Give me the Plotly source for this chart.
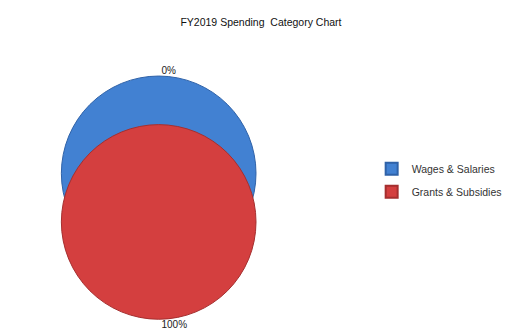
import plotly.graph_objects as go

title = "FY2019 Spending  Category Chart"
categories = ["Wages & Salaries", "Grants & Subsidies"]
values = [0.2, 99.8]
colors = ["#4281d2", "#d43f3f"]
edge_colors = ["#2f62a8", "#a52f2f"]

total = sum(values)
pct = [f"{round(100 * v / total)}%" for v in values]

fig = go.Figure()
# back (blue) disc, label at top
fig.add_trace(go.Pie(
    labels=[categories[0]], values=[values[0]], text=[pct[0]],
    textinfo="text", textposition="outside", rotation=180,
    marker=dict(colors=[colors[0]], line=dict(color=edge_colors[0], width=1)),
    domain=dict(x=[0.117, 0.491], y=[0.192, 0.773]),
    sort=False, showlegend=True, hoverinfo="label+percent",
    legendgroup="a",
    textfont=dict(size=10, color="#222"),
))
# front (red) disc, label at bottom
fig.add_trace(go.Pie(
    labels=[categories[1]], values=[values[1]], text=[pct[1]],
    textinfo="text", textposition="outside", rotation=0,
    marker=dict(colors=[colors[1]], line=dict(color=edge_colors[1], width=1)),
    domain=dict(x=[0.117, 0.491], y=[0.047, 0.628]),
    sort=False, showlegend=True, hoverinfo="label+percent",
    legendgroup="b",
    textfont=dict(size=10, color="#222"),
))

fig.update_layout(
    width=522, height=335,
    margin=dict(l=0, r=0, t=0, b=0),
    paper_bgcolor="white", plot_bgcolor="white",
    font=dict(family="Liberation Sans, Arial, sans-serif", color="#333"),
    title=dict(text=title, x=0.5, xanchor="center", y=0.932, yanchor="middle",
               font=dict(size=10.5, color="#111")),
    legend=dict(x=0.712, y=0.462, xanchor="left", yanchor="middle",
                font=dict(size=10.5, color="#333"), itemsizing="constant",
                traceorder="grouped", tracegroupgap=4,
                bgcolor="rgba(0,0,0,0)"),
)

fig.write_html("out.html")
